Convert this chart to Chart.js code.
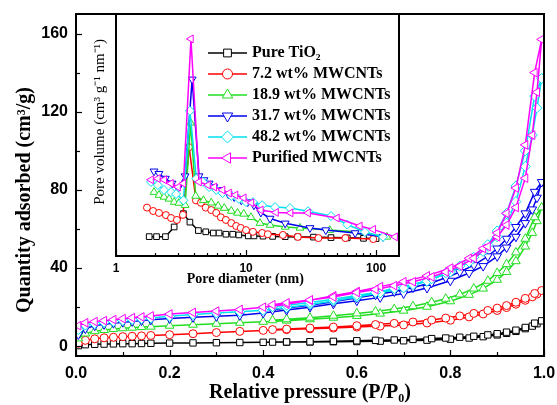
<!DOCTYPE html>
<html>
<head>
<meta charset="utf-8">
<script src="https://cdn.jsdelivr.net/npm/chart.js@4.4.0/dist/chart.umd.min.js"></script>
<style>
  html, body { margin: 0; padding: 0; background: #fff; }
  #wrap { position: relative; width: 557px; height: 405px; }
  #wrap canvas { position: absolute; left: 0; top: 0; }
</style>
</head>
<body>
<div id="wrap">
  <canvas id="mainChart" width="557" height="405"></canvas>
  <canvas id="insetChart" width="557" height="405"></canvas>
</div>
<script>
// ---- isotherms (main plot) ----
const P_ADS = [0.005, 0.02, 0.04, 0.06, 0.08, 0.10, 0.12, 0.14, 0.16, 0.20, 0.25, 0.30, 0.35, 0.40, 0.45, 0.50,
  0.55, 0.60, 0.65, 0.70, 0.75, 0.80, 0.84, 0.87, 0.90, 0.92, 0.94, 0.96, 0.975, 0.985, 0.995];
const P_DES = [0.98, 0.96, 0.94, 0.92, 0.90, 0.88, 0.85, 0.82, 0.79, 0.76, 0.72, 0.68, 0.64, 0.60, 0.55, 0.50, 0.45, 0.42];

const TIO2_ADS = [0.3, 0.8, 1.0, 1.1, 1.2, 1.3, 1.3, 1.4, 1.5, 1.6, 1.7, 1.8, 1.9, 2.0, 2.1, 2.2, 2.3, 2.4, 2.6, 2.8, 3.1, 3.6, 4.2, 4.9, 5.8, 6.6, 7.6, 9.0, 10.3, 11.5, 13.0];
const TIO2_DES = [11.8, 9.6, 8.2, 7.2, 6.4, 5.8, 5.1, 4.6, 4.2, 3.9, 3.5, 3.2, 3.0, 2.8, 2.5, 2.3, 2.2, 2.1];
const CNT7_ADS = [1.5, 3.0, 3.8, 4.3, 4.6, 4.9, 5.1, 5.3, 5.5, 5.9, 6.4, 7.0, 7.6, 8.1, 8.5, 8.9, 9.3, 9.8, 10.3, 10.9, 11.9, 13.3, 15.0, 16.5, 18.3, 19.8, 21.5, 23.5, 25.3, 26.7, 28.5];
const CNT7_DES = [27.0, 24.5, 22.5, 20.8, 19.5, 18.3, 16.8, 15.5, 14.4, 13.4, 12.4, 11.7, 11.1, 10.5, 9.8, 9.3, 8.8, 8.5];
const CNT19_ADS = [4.0, 6.5, 7.7, 8.3, 8.8, 9.2, 9.5, 9.8, 10.0, 10.5, 11.0, 11.5, 12.0, 12.5, 13.1, 13.8, 14.6, 15.5, 16.7, 18.2, 20.2, 23.0, 26.3, 29.5, 34.0, 38.0, 43.5, 51.0, 58.0, 64.0, 71.0];
const CNT19_DES = [66, 55, 48, 42, 37.5, 33.5, 29.5, 26.5, 24.3, 22.5, 20.5, 19.0, 17.8, 16.8, 15.6, 14.6, 13.8, 13.3];
const CNT32_ADS = [6.0, 9.0, 10.5, 11.2, 11.8, 12.3, 12.7, 13.1, 13.5, 14.2, 14.8, 15.3, 15.8, 17.0, 18.5, 20.0, 21.7, 23.3, 25.0, 27.0, 29.8, 33.5, 37.5, 41.0, 46.0, 50.5, 56.0, 63.0, 70.0, 76.0, 84.0];
const CNT32_DES = [79, 68, 61, 55, 50, 46, 41.5, 38, 35, 32.5, 30, 28, 26.3, 24.8, 22.8, 21, 19.5, 18.6];
const CNT48_ADS = [8.5, 10.8, 11.6, 12.2, 12.7, 13.2, 13.7, 14.1, 14.5, 15.3, 16.2, 17.0, 17.6, 18.4, 19.8, 21.4, 23.2, 25.2, 27.3, 29.8, 33.2, 38.0, 43.0, 48.5, 56.0, 63.0, 74.0, 92.0, 108.0, 122.0, 137.0];
const CNT48_DES = [128, 100, 82, 68, 59, 52, 45.5, 41, 37.5, 34.5, 31.5, 29.5, 27.5, 26, 24, 22.4, 21, 20.2];
const PUR_ADS = [10.5, 12.0, 12.6, 13.1, 13.6, 14.1, 14.6, 15.0, 15.5, 16.5, 17.3, 18.0, 18.8, 20.0, 21.5, 23.5, 25.8, 28.0, 30.5, 33.0, 36.0, 40.0, 45.0, 50.0, 56.0, 62.0, 71.0, 86.0, 108.0, 130.0, 157.0];
const PUR_DES = [140, 103, 81, 68, 58, 51, 45, 41, 38, 35.5, 33, 31, 29, 27.5, 25.2, 23.7, 22.2, 21.2];

// ---- pore size distribution (inset) ----
const TIO2_D = [1.8, 2.05, 2.4, 2.8, 3.3, 3.7, 4.3, 4.9, 5.6, 6.2, 7.0, 7.9, 8.8, 10.4, 11.5, 13.5, 16, 20, 25, 33, 45, 60, 80, 100];
const TIO2_V = [8, 8, 8, 12, 17.5, 14, 10.5, 10, 9.5, 9.5, 9, 9, 8.7, 8.3, 8.3, 8.2, 8.1, 8, 7.9, 7.8, 7.6, 7.5, 7.3, 7.2];
const CNT7_D = [1.73, 1.93, 2.14, 2.42, 2.65, 2.94, 3.27, 3.65, 4.12, 4.5, 4.9, 5.4, 5.9, 6.4, 7.0, 7.7, 8.4, 9.1, 10, 11.3, 13.3, 14.7, 19.2, 25, 36, 58, 95];
const CNT7_V = [20, 18.6, 17.8, 16.9, 15.7, 14.9, 17, 45, 23, 22, 20, 19, 17.8, 16, 14.9, 13.6, 12.4, 11.6, 10.7, 10, 9.5, 9, 8.7, 7.9, 7.4, 7.4, 7.0];
const CNT19_D = [1.96, 2.14, 2.34, 2.56, 2.8, 3.05, 3.4, 3.75, 4.1, 4.7, 5.4, 6.1, 6.8, 7.7, 8.6, 9.6, 10.9, 12.8, 15.3, 20, 26, 44, 75, 121];
const CNT19_V = [26.4, 25.2, 24.4, 23.6, 22.3, 21.9, 21, 55, 24.8, 23, 22, 20.7, 19.8, 18.6, 17.8, 17.4, 16, 13.6, 12.8, 12, 11.6, 10.7, 9.9, 7.9];
const CNT32_D = [1.96, 2.14, 2.4, 2.7, 3.0, 3.4, 3.85, 4.35, 4.75, 5.2, 5.65, 6.4, 7.3, 8.1, 9.2, 10.3, 11.5, 13, 15.3, 20, 31, 41, 69, 113];
const CNT32_V = [35, 34, 32, 30, 28, 33, 73, 33, 31.4, 30, 28.5, 27.3, 25.6, 24.4, 23, 22.3, 21, 18, 15.5, 13.5, 11.6, 10.7, 9.5, 7.9];
const CNT48_D = [1.86, 2.1, 2.34, 2.65, 2.9, 3.3, 3.7, 4.15, 4.66, 5.2, 5.9, 6.6, 7.7, 8.8, 10, 11.3, 13.3, 16.7, 21.8, 30, 45, 60, 82, 113];
const CNT48_V = [30.6, 29.3, 27.3, 26.4, 25.6, 23, 60, 32, 30.6, 28.5, 27.3, 26, 24.8, 23.6, 22.3, 22.3, 21, 20.2, 19.8, 18.5, 16.5, 13, 9.9, 7.9];
const PUR_D = [1.86, 2.1, 2.35, 2.65, 3.0, 3.3, 3.77, 4.35, 5.1, 5.7, 6.6, 7.4, 8.3, 9.6, 11, 13, 17, 22, 30, 50, 75, 95, 140];
const PUR_V = [31.5, 32, 31.5, 30, 28.5, 30, 89.7, 30.6, 29.3, 28.5, 27.3, 26, 25.2, 24, 22, 19, 18, 17.8, 17.8, 15.7, 12.4, 11, 7.9];

// ---- axes ----
const X_TICKS = [0, 0.2, 0.4, 0.6, 0.8, 1.0];
const X_MINOR = [0.1, 0.3, 0.5, 0.7, 0.9];
const Y_TICKS = [0, 40, 80, 120, 160];
const Y_MINOR = [20, 60, 100, 140];
const D_TICKS = [1, 10, 100];
const D_MINOR = [2, 3, 4, 5, 6, 7, 8, 9, 20, 30, 40, 50, 60, 70, 80, 90];

const SERIES = [
  { label: 'Pure TiO\u2082', color: '#000000', style: 'rect', rot: 0, r: 4.5, ads: TIO2_ADS, des: TIO2_DES, d: TIO2_D, v: TIO2_V },
  { label: '7.2 wt% MWCNTs', color: '#ff0000', style: 'circle', rot: 0, r: 4, ads: CNT7_ADS, des: CNT7_DES, d: CNT7_D, v: CNT7_V },
  { label: '18.9 wt% MWCNTs', color: '#22dd22', style: 'triangle', rot: 0, r: 5, ads: CNT19_ADS, des: CNT19_DES, d: CNT19_D, v: CNT19_V },
  { label: '31.7 wt% MWCNTs', color: '#0000ee', style: 'triangle', rot: 180, r: 5, ads: CNT32_ADS, des: CNT32_DES, d: CNT32_D, v: CNT32_V },
  { label: '48.2 wt% MWCNTs', color: '#00e0f0', style: 'rectRot', rot: 0, r: 5, ads: CNT48_ADS, des: CNT48_DES, d: CNT48_D, v: CNT48_V },
  { label: 'Purified MWCNTs', color: '#ff00ff', style: 'triangle', rot: 270, r: 5, ads: PUR_ADS, des: PUR_DES, d: PUR_D, v: PUR_V }
];

const SANS = '"Liberation Sans", Arial, sans-serif';
const SERIF = '"Liberation Serif", "Times New Roman", serif';

// frame + inward tick marks
const frameTicks = {
  id: 'frameTicks',
  afterDatasetsDraw(chart, args, opts) {
    const { ctx, chartArea: a } = chart;
    ctx.save();
    ctx.strokeStyle = '#000';
    ctx.lineWidth = 1.2;
    (opts.marks || []).forEach(m => {
      const scale = chart.scales[m.axis];
      m.values.forEach(val => {
        const p = Math.round(scale.getPixelForValue(val)) + 0.5;
        ctx.beginPath();
        if (scale.isHorizontal()) {
          ctx.moveTo(p, a.bottom);
          ctx.lineTo(p, a.bottom - m.len);
        } else {
          ctx.moveTo(a.left, p);
          ctx.lineTo(a.left + m.len, p);
        }
        ctx.stroke();
      });
    });
    ctx.lineWidth = 2;
    ctx.strokeRect(a.left, a.top, a.right - a.left, a.bottom - a.top);
    ctx.restore();
  }
};

// legend drawn inside the inset
const insetLegend = {
  id: 'insetLegend',
  afterDraw(chart, args, opts) {
    const { ctx } = chart;
    ctx.save();
    chart.data.datasets.forEach((ds, i) => {
      const y = opts.top + i * opts.gap;
      ctx.strokeStyle = ds.borderColor;
      ctx.lineWidth = 1.5;
      ctx.beginPath();
      ctx.moveTo(opts.x0, y);
      ctx.lineTo(opts.x1, y);
      ctx.stroke();
      ctx.fillStyle = '#fff';
      ctx.lineWidth = 1;
      Chart.helpers.drawPoint(ctx, { pointStyle: ds.pointStyle, rotation: ds.pointRotation, radius: ds.pointRadius + 1.5, borderWidth: 1 }, (opts.x0 + opts.x1) / 2, y);
      ctx.fillStyle = '#000';
      ctx.font = 'bold 16px ' + SERIF;
      ctx.textBaseline = 'middle';
      ctx.fillText(ds.label, opts.textX, y);
    });
    ctx.restore();
  }
};

// keep the plot box where the layout puts it (no extra room for edge labels)
const noEdgePad = s => { s.paddingLeft = 0; s.paddingRight = 0; s.paddingTop = 0; s.paddingBottom = 0; };

const mainDatasets = SERIES.map((s, i) => ({
  label: s.label,
  data: P_ADS.map((p, k) => ({ x: p, y: s.ads[k] })).concat(P_DES.map((p, k) => ({ x: p, y: s.des[k] }))),
  borderColor: s.color,
  backgroundColor: '#fff',
  borderWidth: 1.5,
  pointStyle: s.style,
  pointRotation: s.rot,
  pointRadius: s.r,
  pointBorderWidth: 1,
  pointBackgroundColor: '#fff',
  pointBorderColor: s.color,
  tension: 0,
  order: SERIES.length - i
}));

const insetDatasets = SERIES.map((s, i) => ({
  label: s.label,
  data: s.d.map((d, k) => ({ x: d, y: s.v[k] })),
  borderColor: s.color,
  backgroundColor: '#fff',
  borderWidth: 1.5,
  pointStyle: s.style,
  pointRotation: s.rot,
  pointRadius: s.r - 0.5,
  pointBorderWidth: 1,
  pointBackgroundColor: '#fff',
  pointBorderColor: s.color,
  tension: 0,
  order: SERIES.length - i
}));

new Chart(document.getElementById('mainChart'), {
  type: 'line',
  data: { datasets: mainDatasets },
  options: {
    responsive: false,
    animation: false,
    events: [],
    layout: { padding: { left: 0, right: 13, top: 14, bottom: 0 } },
    plugins: {
      legend: { display: false },
      tooltip: { enabled: false },
      frameTicks: {
        marks: [
          { axis: 'x', values: X_TICKS, len: 6 },
          { axis: 'x', values: X_MINOR, len: 4 },
          { axis: 'y', values: Y_TICKS, len: 6 },
          { axis: 'y', values: Y_MINOR, len: 4 }
        ]
      }
    },
    scales: {
      x: {
        type: 'linear',
        min: 0,
        max: 1,
        afterBuildTicks: s => { s.ticks = X_TICKS.map(v => ({ value: v })); },
        afterFit: s => { s.height = 49; noEdgePad(s); },
        grid: { display: false, drawTicks: false },
        border: { display: false },
        ticks: { color: '#000', padding: 8, maxRotation: 0, autoSkip: false, font: { family: SANS, size: 16, weight: 'bold' }, callback: v => v.toFixed(1) },
        title: { display: true, text: 'Relative pressure (P/P\u2080)', color: '#000', padding: 0, font: { family: SERIF, size: 20, weight: 'bold' } }
      },
      y: {
        type: 'linear',
        min: -5,
        max: 170,
        afterBuildTicks: s => { s.ticks = Y_TICKS.map(v => ({ value: v })); },
        afterFit: s => { s.width = 76; noEdgePad(s); },
        grid: { display: false, drawTicks: false },
        border: { display: false },
        ticks: { color: '#000', padding: 8, autoSkip: false, font: { family: SANS, size: 16, weight: 'bold' } },
        // trailing spaces nudge the centred title toward the bottom, as in the figure
        title: { display: true, text: 'Quantity adsorbed (cm\u00b3/g)      ', color: '#000', padding: { top: 13 }, font: { family: SERIF, size: 20, weight: 'bold' } }
      }
    }
  },
  plugins: [frameTicks]
});

new Chart(document.getElementById('insetChart'), {
  type: 'line',
  data: { datasets: insetDatasets },
  options: {
    responsive: false,
    animation: false,
    events: [],
    layout: { padding: { left: 88, right: 158, top: 14, bottom: 117 } },
    plugins: {
      legend: { display: false },
      tooltip: { enabled: false },
      frameTicks: {
        marks: [
          { axis: 'x', values: D_TICKS, len: 6 },
          { axis: 'x', values: D_MINOR, len: 3 }
        ]
      },
      insetLegend: { x0: 208, x1: 247, textX: 252, top: 53, gap: 21 }
    },
    scales: {
      x: {
        type: 'logarithmic',
        min: 1,
        max: 150,
        afterBuildTicks: s => { s.ticks = D_TICKS.map(v => ({ value: v })); },
        afterFit: s => { s.height = 32; noEdgePad(s); },
        grid: { display: false, drawTicks: false },
        border: { display: false },
        ticks: { color: '#000', padding: 5, maxRotation: 0, autoSkip: false, font: { family: SANS, size: 12, weight: 'bold' }, callback: v => String(v) },
        title: { display: true, text: 'Pore diameter (nm)       ', color: '#000', padding: 0, font: { family: SERIF, size: 14, weight: 'bold' } }
      },
      y: {
        type: 'linear',
        min: 0,
        max: 100,
        afterFit: s => { s.width = 28; noEdgePad(s); },
        grid: { display: false, drawTicks: false },
        border: { display: false },
        ticks: { display: false },
        title: { display: true, text: '       Pore volume (cm\u00b3 g\u207b\u00b9 nm\u207b\u00b9)', color: '#000', padding: { top: 3 }, font: { family: SERIF, size: 15 } }
      }
    }
  },
  plugins: [frameTicks, insetLegend]
});
</script>
</body>
</html>
